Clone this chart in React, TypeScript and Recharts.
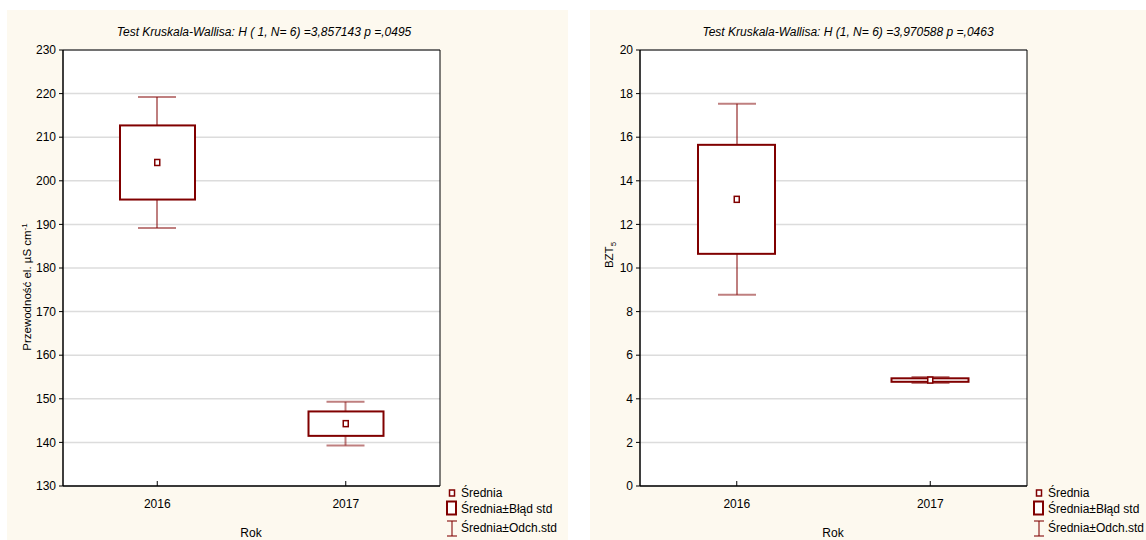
import React from 'react';
import { ComposedChart, Bar, Line, XAxis, YAxis, CartesianGrid, ReferenceArea } from 'recharts';

const categories = ['2016', '2017'];

// Conductivity (Przewodność el.)
const condMean = [204.2, 144.3];
const condSe = [8.5, 2.8];
const condSd = [15.0, 5.0];
const condTicks = [130, 140, 150, 160, 170, 180, 190, 200, 210, 220, 230];

// BZT5
const bztMean = [13.15, 4.86];
const bztSe = [2.5, 0.08];
const bztSd = [4.38, 0.14];
const bztTicks = [0, 2, 4, 6, 8, 10, 12, 14, 16, 18, 20];

const titles = [
  'Test Kruskala-Wallisa: H ( 1, N= 6) =3,857143 p =,0495',
  'Test Kruskala-Wallisa: H (1, N= 6) =3,970588 p =,0463',
];
const xLabel = 'Rok';
const legendLabels = ['Średnia', 'Średnia±Błąd std', 'Średnia±Odch.std'];

const build = (mean: number[], se: number[], sd: number[]) =>
  categories.map((c, i) => ({
    cat: c,
    mean: mean[i],
    box: [mean[i] - se[i], mean[i] + se[i]],
    whisk: [mean[i] - sd[i], mean[i] + sd[i]],
  }));

const condData = build(condMean, condSe, condSd);
const bztData = build(bztMean, bztSe, bztSd);

const RED = '#800000';
const FONT = '"Liberation Sans", Arial, sans-serif';
const CREAM = '#fdf9ef';

const WhiskerShape = (props: any) => {
  const { x, y, width, height } = props;
  const top = Math.min(y, y + height);
  const bot = Math.max(y, y + height);
  const cx = x + width / 2;
  return (
    <g stroke={RED} strokeOpacity={0.5} strokeWidth={2}>
      <line x1={cx} x2={cx} y1={top} y2={bot} />
      <line x1={x} x2={x + width} y1={top} y2={top} />
      <line x1={x} x2={x + width} y1={bot} y2={bot} />
    </g>
  );
};

const BoxShape = (props: any) => {
  const { x, y, width, height } = props;
  const top = Math.min(y, y + height);
  const h = Math.abs(height);
  return <rect x={x} y={top} width={width} height={h} fill="#fff" stroke={RED} strokeWidth={2} />;
};

const MeanDot = (p: any) => {
  if (p.cx == null || p.cy == null) return <g key={`d-${p.index}`} />;
  return (
    <rect
      key={`d-${p.index}`}
      x={p.cx - 2.5}
      y={p.cy - 3}
      width={5}
      height={6}
      fill="#fff"
      stroke={RED}
      strokeWidth={1.5}
    />
  );
};

const BottomTick = (props: any) => {
  const { x, y, payload } = props;
  return (
    <g>
      <line x1={x} x2={x} y1={y} y2={y - 5} stroke="#000" strokeWidth={1} />
      <text x={x} y={y + 22} textAnchor="middle" fontSize={12} fontFamily={FONT} fill="#000">
        {payload.value}
      </text>
    </g>
  );
};

const TopTick = (props: any) => {
  const { x, y } = props;
  return <line x1={x} x2={x} y1={y} y2={y + 5} stroke="#000" strokeWidth={1} />;
};

type PanelProps = {
  left: number;
  data: any[];
  ticks: number[];
  marginLeft: number;
  marginRight: number;
  boxSize: number;
};

const Chart = ({ left, data, ticks, marginLeft, marginRight, boxSize }: PanelProps) => (
  <div style={{ position: 'absolute', left, top: 0 }}>
    <ComposedChart
      width={573}
      height={540}
      data={data}
      margin={{ top: 50, right: marginRight, bottom: 14, left: marginLeft }}
      barGap={0}
    >
      <CartesianGrid
        xAxisId="x"
        vertical={false}
        stroke="#dcdcdc"
        strokeWidth={1.5}
        fill="#ffffff"
        fillOpacity={1}
      />
      <XAxis
        xAxisId="top"
        dataKey="cat"
        orientation="top"
        height={0}
        axisLine={false}
        tickLine={false}
        tickSize={0}
        tickMargin={0}
        tick={<TopTick />}
        interval={0}
      />
      <XAxis
        xAxisId="x"
        dataKey="cat"
        height={40}
        axisLine={{ stroke: '#000' }}
        tickLine={false}
        tickSize={0}
        tickMargin={0}
        tick={<BottomTick />}
        interval={0}
      />
      <YAxis
        domain={[ticks[0], ticks[ticks.length - 1]]}
        ticks={ticks}
        type="number"
        width={40}
        interval={0}
        axisLine={{ stroke: '#000' }}
        tickLine={{ stroke: '#000' }}
        tickSize={4}
        tickMargin={3}
        tick={{ fontSize: 12, fontFamily: FONT, fill: '#000' }}
        allowDataOverflow
      />
      <Bar
        xAxisId="top"
        dataKey="whisk"
        barSize={38}
        shape={<WhiskerShape />}
        isAnimationActive={false}
      />
      <Bar
        xAxisId="x"
        dataKey="box"
        barSize={boxSize}
        shape={<BoxShape />}
        isAnimationActive={false}
      />
      <Line
        xAxisId="x"
        dataKey="mean"
        stroke="none"
        dot={MeanDot}
        activeDot={false}
        isAnimationActive={false}
      />
      <ReferenceArea
        xAxisId="x"
        y1={ticks[0]}
        y2={ticks[ticks.length - 1]}
        fill="none"
        stroke="#000"
        strokeWidth={1}
        ifOverflow="visible"
      />
    </ComposedChart>
  </div>
);

const LegendItems = ({ x }: { x: number }) => (
  <g fontFamily={FONT} fontSize={12} fill="#000">
    <rect x={x - 2.5} y={490} width={5} height={6} fill="#fff" stroke={RED} strokeWidth={1.5} />
    <text x={x + 9} y={497}>{legendLabels[0]}</text>
    <rect x={x - 5} y={501.5} width={9} height={13} fill="#fff" stroke={RED} strokeWidth={2} />
    <text x={x + 9} y={513}>{legendLabels[1]}</text>
    <g stroke={RED} strokeOpacity={0.7} strokeWidth={1.5}>
      <line x1={x} x2={x} y1={521} y2={536} />
      <line x1={x - 5} x2={x + 5} y1={521} y2={521} />
      <line x1={x - 5} x2={x + 5} y1={536} y2={536} />
    </g>
    <text x={x + 9} y={532}>{legendLabels[2]}</text>
  </g>
);

export default function App() {
  return (
    <div style={{ position: 'absolute', left: 0, top: 0, width: 1146, height: 540, background: '#fff', overflow: 'hidden' }}>
      <div style={{ position: 'absolute', left: 7, top: 10, width: 561, height: 530, background: CREAM }} />
      <div style={{ position: 'absolute', left: 590, top: 10, width: 556, height: 530, background: CREAM }} />
      <Chart left={0} data={condData} ticks={condTicks} marginLeft={23} marginRight={133} boxSize={75} />
      <Chart left={573} data={bztData} ticks={bztTicks} marginLeft={27} marginRight={119} boxSize={77} />
      <svg
        width={1146}
        height={540}
        style={{ position: 'absolute', left: 0, top: 0, pointerEvents: 'none' }}
      >
        <text x={264} y={36} textAnchor="middle" fontFamily={FONT} fontSize={12} fontStyle="italic" fill="#000">
          {titles[0]}
        </text>
        <text x={848} y={36} textAnchor="middle" fontFamily={FONT} fontSize={12} fontStyle="italic" fill="#000">
          {titles[1]}
        </text>
        <text x={251} y={537} textAnchor="middle" fontFamily={FONT} fontSize={12} fill="#000">
          {xLabel}
        </text>
        <text x={833} y={537} textAnchor="middle" fontFamily={FONT} fontSize={12} fill="#000">
          {xLabel}
        </text>
        <text
          x={31}
          y={287}
          transform="rotate(-90 31 287)"
          textAnchor="middle"
          fontFamily={FONT}
          fontSize={11.5}
          fill="#000"
        >
          Przewodność el.  µS cm
          <tspan dy={-4} fontSize={8}>-1</tspan>
        </text>
        <text
          x={613}
          y={255}
          transform="rotate(-90 613 255)"
          textAnchor="middle"
          fontFamily={FONT}
          fontSize={11.5}
          fill="#000"
        >
          BZT
          <tspan dy={3} fontSize={8}>5</tspan>
        </text>
        <LegendItems x={452} />
        <LegendItems x={1039} />
      </svg>
    </div>
  );
}
